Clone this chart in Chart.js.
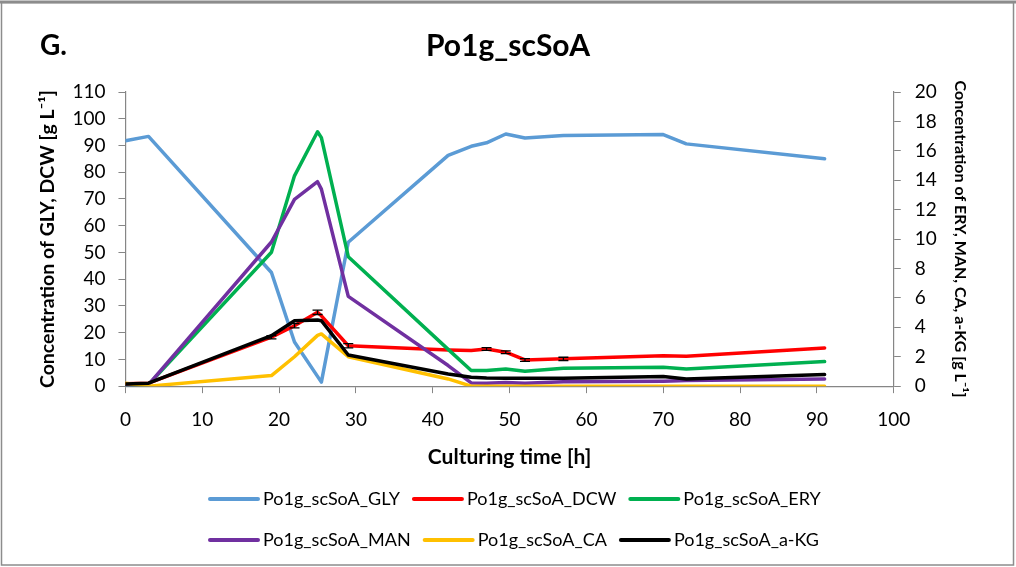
<!DOCTYPE html>
<html><head><meta charset="utf-8">
<script src="https://cdn.jsdelivr.net/npm/chart.js@4/dist/chart.umd.min.js"></script>
<style>html,body{margin:0;padding:0;background:#fff;} canvas{display:block;}</style>
</head><body>
<canvas id="c" width="1016" height="567"></canvas>
<script>
// ---- data ----
const times = [0, 3, 19, 22, 25, 25.5, 29, 42, 45, 47, 49.5, 52, 57, 70, 73, 91];
const seriesNames = ['Po1g_scSoA_GLY','Po1g_scSoA_DCW','Po1g_scSoA_ERY','Po1g_scSoA_MAN','Po1g_scSoA_CA','Po1g_scSoA_a-KG'];
const gly  = [91.8, 93.4, 42.5, 16.5, null, 1.5, 53.8, 86.3, 89.7, 91.0, 94.3, 92.8, 93.7, 94.1, 90.6, 85.0];
const dcw  = [0.9, 1.1, 18.3, 22.6, 27.6, 26.3, 15.1, 13.5, 13.3, 13.9, 12.7, 9.8, 10.2, 11.4, 11.2, 14.3];
const dcwErr = [0, 0, 0.6, 0.8, 0.8, 0, 0.8, 0, 0, 0.5, 0.5, 0.5, 0.6, 0, 0, 0];
const ery  = [0.0, 0.1, 9.1, 14.3, 17.3, 16.9, 8.8, 2.5, 1.06, 1.06, 1.17, 1.02, 1.22, 1.29, 1.17, 1.67];
const man  = [0.0, 0.1, 9.8, 12.7, 13.9, 13.4, 6.1, 1.4, 0.22, 0.2, 0.25, 0.2, 0.3, 0.34, 0.38, 0.49];
const ca   = [0.2, 0.0, 0.72, 2.0, 3.45, 3.55, 2.0, 0.49, 0, 0, 0, 0, 0, 0, 0, 0];
const akg  = [0.15, 0.2, 3.43, 4.45, 4.5, 4.45, 2.12, 0.83, 0.61, 0.56, 0.54, 0.54, 0.54, 0.65, 0.49, 0.79];
const xTicks = {min: 0, max: 100, step: 10};
const yLeftTicks = {min: 0, max: 110, step: 10};
const yRightTicks = {min: 0, max: 20, step: 2};

const FONT = 'Lato';
const colors = ['#5B9BD5', '#FF0000', '#00B050', '#7030A0', '#FFC000', '#000000'];
const values = [gly, dcw, ery, man, ca, akg];
const axes = ['y', 'y', 'y1', 'y1', 'y1', 'y1'];

const toPts = v => times.map((t, i) => ({x: t, y: v[i]}));

const datasets = values.map((v, i) => ({
  label: seriesNames[i],
  data: toPts(v),
  yAxisID: axes[i],
  borderColor: colors[i],
  backgroundColor: colors[i],
  borderWidth: 3.5,
  pointRadius: 0,
  tension: 0,
  spanGaps: true,
  borderCapStyle: 'round',
  borderJoinStyle: 'round',
  order: 6 - i
}));

const frame = {
  id: 'frame',
  beforeDraw(chart) {
    const c = chart.ctx;
    c.save();
    c.fillStyle = '#fff';
    c.fillRect(0, 0, chart.width, chart.height);
    c.strokeStyle = '#8c8c8c';
    c.lineWidth = 1.5;
    c.strokeRect(1.5, 2.5, chart.width - 4, chart.height - 4.5);
    c.lineWidth = 3;
    c.beginPath(); c.moveTo(0, 2); c.lineTo(chart.width, 2); c.stroke();
    c.restore();
  },
  afterDraw(chart) {
    const c = chart.ctx;
    c.save();
    c.fillStyle = '#000';
    c.font = 'bold 28px ' + FONT;
    c.textBaseline = 'middle';
    c.fillText('G.', 40, 46);
    // legend (3 entries per row, Excel-like)
    c.font = '18px ' + FONT;
    const rowsY = [499, 540];
    const startX = 208;
    chart.data.datasets.forEach((ds, i) => {
      const row = Math.floor(i / 3);
      if (i % 3 === 0) c._lx = startX;
      const x = c._lx, y = rowsY[row];
      c.strokeStyle = ds.borderColor;
      c.lineWidth = 4;
      c.lineCap = 'round';
      c.beginPath(); c.moveTo(x + 2, y); c.lineTo(x + 50, y); c.stroke();
      c.fillStyle = '#000';
      c.textAlign = 'left';
      c.fillText(ds.label, x + 55, y);
      c._lx = x + 55 + c.measureText(ds.label).width + 12;
    });
    c.restore();
  }
};

const errBars = {
  id: 'errBars',
  afterDatasetsDraw(chart) {
    const ys = chart.scales.y, xs = chart.scales.x, c = chart.ctx;
    c.save();
    c.strokeStyle = '#000';
    c.lineWidth = 1.3;
    times.forEach((t, i) => {
      const e = dcwErr[i];
      if (!e) return;
      const px = xs.getPixelForValue(t);
      const y1 = ys.getPixelForValue(dcw[i] + e), y2 = ys.getPixelForValue(dcw[i] - e);
      c.beginPath();
      c.moveTo(px, y1); c.lineTo(px, y2);
      c.moveTo(px - 5, y1); c.lineTo(px + 5, y1);
      c.moveTo(px - 5, y2); c.lineTo(px + 5, y2);
      c.stroke();
    });
    c.restore();
  }
};

const axisColor = '#868686';
const tickFont = {family: FONT, size: 19};

new Chart(document.getElementById('c'), {
  type: 'line',
  data: {datasets},
  plugins: [frame, errBars],
  options: {
    responsive: false,
    animation: false,
    layout: {padding: {left: 12, right: 12, top: 4, bottom: 97}},
    plugins: {
      title: {display: true, text: 'Po1g_scSoA', color: '#000',
        font: {family: FONT, size: 30, weight: 'bold'}, padding: {top: 24, bottom: 28}},
      legend: {display: false},
      tooltip: {enabled: false}
    },
    scales: {
      x: {
        type: 'linear', min: xTicks.min, max: xTicks.max,
        ticks: {stepSize: xTicks.step, autoSkip: false, maxRotation: 0, font: tickFont, color: '#000', padding: 15},
        grid: {drawOnChartArea: false, drawTicks: true, tickLength: 7, color: axisColor},
        border: {color: axisColor, width: 1.2},
        title: {display: true, text: 'Culturing time [h]', color: '#000',
          font: {family: FONT, size: 21, weight: 'bold', lineHeight: 1.05}, padding: {top: 0, bottom: 2}}
      },
      y: {
        position: 'left', min: yLeftTicks.min, max: yLeftTicks.max,
        ticks: {stepSize: yLeftTicks.step, autoSkip: false, font: tickFont, color: '#000', padding: 13},
        grid: {drawOnChartArea: false, drawTicks: true, tickLength: 7, color: axisColor},
        border: {color: axisColor, width: 1.2},
        title: {display: true, text: 'Concentration of GLY, DCW [g L⁻¹]', color: '#000',
          font: {family: FONT, size: 19.5, weight: 'bold'}, padding: {top: 24, bottom: 0}}
      },
      y1: {
        position: 'right', min: yRightTicks.min, max: yRightTicks.max,
        ticks: {stepSize: yRightTicks.step, autoSkip: false, font: tickFont, color: '#000', padding: 14},
        grid: {drawOnChartArea: false, drawTicks: true, tickLength: 7, color: axisColor},
        border: {color: axisColor, width: 1.2},
        title: {display: true, text: 'Concentration of ERY, MAN, CA, a-KG [g L⁻¹]', color: '#000',
          font: {family: FONT, size: 16, weight: 'bold'}, padding: {top: 34, bottom: 0}}
      }
    }
  }
});
</script>
</body></html>
